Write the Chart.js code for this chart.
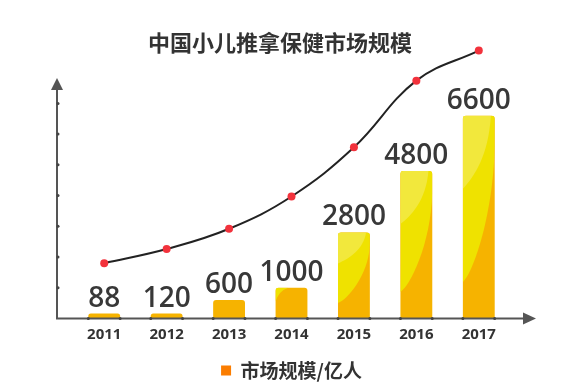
<!DOCTYPE html>
<html>
<head>
<meta charset="utf-8">
<script src="https://cdn.jsdelivr.net/npm/chart.js@4.4.0/dist/chart.umd.min.js"></script>
<style>
  html, body { margin: 0; padding: 0; background: #fff; }
  #wrap { width: 570px; height: 390px; }
</style>
</head>
<body>
<div id="wrap"><canvas id="c"></canvas></div>
<script>
const years = ['2011', '2012', '2013', '2014', '2015', '2016', '2017'];
const marketSize = [88, 120, 600, 1000, 2800, 4800, 6600];
// decorative trend curve drawn above the bars (same axis units)
const trendLine = [1800, 2260, 2920, 3970, 5570, 7740, 8720];
const yTicks = [1000, 2000, 3000, 4000, 5000, 6000, 7000];
const titleText = '中国小儿推拿保健市场规模';
const seriesName = '市场规模/亿人';

const ORANGE = '#f6b300';
const YELLOW = '#efe200';
const LIGHT = '#f2e83c';

// yellow shading on top of each bar
function shadeBars(ctx, bars) {
  bars.forEach(el => {
    const { x, y, base, width } = el.getProps(['x', 'y', 'base', 'width'], true);
    const l = x - width / 2, r = x + width / 2, h = base - y, w = width;
    ctx.save();
    ctx.beginPath();
    ctx.roundRect(l, y, w, h, [3, 3, 0, 0]);
    ctx.clip();
    if (h > 80) {
      ctx.fillStyle = YELLOW;
      ctx.beginPath();
      ctx.moveTo(l, y);
      ctx.lineTo(r, y);
      ctx.lineTo(r, y + 0.15 * h);
      ctx.bezierCurveTo(r - 0.05 * w, y + 0.5 * h, l + 0.3 * w, y + 0.78 * h, l, y + 0.82 * h);
      ctx.closePath();
      ctx.fill();
      ctx.fillStyle = LIGHT;
      ctx.beginPath();
      ctx.moveTo(l, y);
      ctx.lineTo(r - 0.12 * w, y);
      ctx.bezierCurveTo(r - 0.2 * w, y + 0.2 * h, l + 0.35 * w, y + 0.3 * h, l, y + 0.36 * h);
      ctx.closePath();
      ctx.fill();
    } else if (h > 25) {
      ctx.fillStyle = YELLOW;
      ctx.beginPath();
      ctx.moveTo(l, y);
      ctx.lineTo(l + 0.4 * w, y);
      ctx.quadraticCurveTo(l + 0.1 * w, y + 0.1 * h, l, y + 0.45 * h);
      ctx.closePath();
      ctx.fill();
    }
    ctx.restore();
  });
}

const decor = {
  id: 'decor',
  afterDatasetDraw(chart, args) {
    if (args.index === 0) shadeBars(chart.ctx, args.meta.data);
  },
  afterDatasetsDraw(chart) {
    const ctx = chart.ctx;
    const ys = chart.scales.y;
    const ax = 57, ay = ys.getPixelForValue(0);
    ctx.save();
    // axes with arrows
    ctx.strokeStyle = '#555';
    ctx.fillStyle = '#555';
    ctx.lineWidth = 2;
    ctx.beginPath();
    ctx.moveTo(ax, ay);
    ctx.lineTo(ax, 88);
    ctx.moveTo(ax - 1, ay);
    ctx.lineTo(526, ay);
    ctx.stroke();
    ctx.beginPath();
    ctx.moveTo(ax, 78); ctx.lineTo(ax - 6, 90); ctx.lineTo(ax + 6, 90);
    ctx.closePath(); ctx.fill();
    ctx.beginPath();
    ctx.moveTo(536, ay); ctx.lineTo(523, ay - 6); ctx.lineTo(523, ay + 6);
    ctx.closePath(); ctx.fill();
    // tick dots on y axis
    ctx.fillStyle = '#444';
    yTicks.forEach(v => {
      ctx.beginPath();
      ctx.arc(ax + 1, ys.getPixelForValue(v), 1.5, 0, Math.PI * 2);
      ctx.fill();
    });
    // dots at bar feet
    chart.getDatasetMeta(0).data.forEach(el => {
      [el.x - el.width / 2, el.x + el.width / 2].forEach(px => {
        ctx.beginPath();
        ctx.arc(px, ay, 1.5, 0, Math.PI * 2);
        ctx.fill();
      });
    });
    // value labels
    ctx.fillStyle = '#383838';
    ctx.font = '600 28px "Open Sans"';
    ctx.textAlign = 'center';
    ctx.textBaseline = 'alphabetic';
    chart.getDatasetMeta(0).data.forEach((el, i) => {
      ctx.fillText(String(marketSize[i]), el.x, el.y - 7);
    });
    ctx.restore();
  },
  afterDraw(chart) {
    const ctx = chart.ctx;
    ctx.save();
    ctx.fillStyle = '#333';
    ctx.font = 'bold 22px "Noto Sans CJK SC"';
    ctx.textAlign = 'center';
    ctx.textBaseline = 'middle';
    ctx.fillText(titleText, 280, 43);
    ctx.restore();
  }
};

new Chart(document.getElementById('c'), {
  data: {
    labels: years,
    datasets: [
      {
        type: 'bar',
        label: seriesName,
        data: marketSize,
        backgroundColor: ORANGE,
        borderRadius: { topLeft: 3, topRight: 3 },
        borderSkipped: 'start',
        minBarLength: 5,
        barPercentage: 0.51,
        categoryPercentage: 1,
        order: 2
      },
      {
        type: 'line',
        label: 'trend',
        data: trendLine,
        borderColor: '#222',
        borderWidth: 2,
        tension: 0.4,
        pointRadius: 4,
        pointBackgroundColor: '#f2323c',
        pointBorderWidth: 0,
        clip: false,
        order: 1
      }
    ]
  },
  plugins: [decor],
  options: {
    responsive: true,
    maintainAspectRatio: false,
    animation: false,
    layout: { padding: { left: 73, right: 60, top: 45, bottom: 0 } },
    scales: {
      x: {
        grid: { display: false, drawTicks: false },
        border: { display: false },
        ticks: {
          padding: 7,
          color: '#333',
          font: { family: '"Open Sans"', size: 15, weight: 'bold' }
        },
        afterFit: s => { s.height = 31; }
      },
      y: {
        display: false,
        min: 0,
        max: 8900
      }
    },
    plugins: {
      title: { display: false },
      tooltip: { enabled: false },
      legend: {
        position: 'bottom',
        labels: {
          boxWidth: 10,
          boxHeight: 10,
          padding: 11.5,
          color: '#333',
          font: { family: '"Noto Sans CJK SC"', size: 19, weight: 'bold' },
          generateLabels: chart => Chart.defaults.plugins.legend.labels.generateLabels(chart)
            .filter(l => l.datasetIndex === 0)
            .map(l => Object.assign(l, { fillStyle: '#fb7d00', strokeStyle: '#fb7d00', lineWidth: 0 }))
        }
      }
    }
  }
});
</script>
</body>
</html>
